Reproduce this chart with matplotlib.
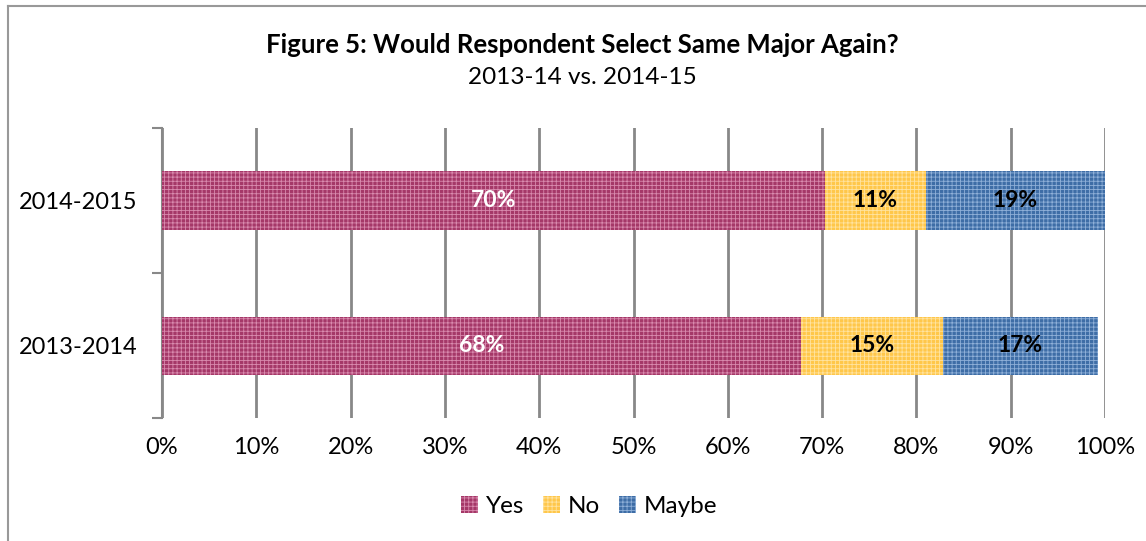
import numpy as np
import matplotlib.pyplot as plt
from matplotlib.lines import Line2D

plt.rcParams['font.family'] = ['Lato', 'DejaVu Sans']
plt.rcParams['hatch.linewidth'] = 0.6

years = ['2013-2014', '2014-2015']
yes = [67.8, 70.3]
no = [15.0, 10.7]
maybe = [16.5, 19.0]
yes_labels = ['68%', '70%']
no_labels = ['15%', '11%']
maybe_labels = ['17%', '19%']

series = [('Yes', yes, yes_labels, '#A53868', '#D98AAE', 'white'),
          ('No', no, no_labels, '#FFC74A', '#FFE3A0', 'black'),
          ('Maybe', maybe, maybe_labels, '#3E6DA6', '#8FB0D8', 'black')]

fig = plt.figure(figsize=(11.46, 5.41), dpi=100)
ax = fig.add_axes([162/1146, 1-418/541, (1105-162)/1146, (418-128)/541])

y = np.arange(len(years))
left = np.zeros(len(years))
for name, vals, labs, fc, hc, tc in series:
    bars = ax.barh(y, vals, left=left, height=0.4, color=fc, edgecolor=hc,
                   hatch='++++', linewidth=0, label=name, zorder=3)
    for b, lab in zip(bars, labs):
        ax.text(b.get_x() + b.get_width()/2, b.get_y() + b.get_height()/2, lab,
                ha='center', va='center', fontsize=16.5, fontweight='bold',
                color=tc, zorder=4)
    left += np.array(vals)

ax.set_xlim(0, 100)
ax.set_ylim(-0.5, 1.5)
ax.set_xticks(np.arange(0, 101, 10))
ax.set_xticklabels([f'{v}%' for v in range(0, 101, 10)], fontsize=17)
ax.set_yticks(y)
ax.set_yticklabels(years, fontsize=17)
ax.set_yticks([-0.5, 0.5, 1.5], minor=True)
ax.tick_params(axis='y', which='major', length=0, pad=18)
ax.tick_params(axis='y', which='minor', length=7, color='#888888', width=1.5)
ax.tick_params(axis='x', length=0, pad=14)
ax.grid(axis='x', color='#888888', linewidth=2, zorder=0)
for s in ['top', 'right', 'bottom']:
    ax.spines[s].set_visible(False)
ax.spines['left'].set_color('#888888')
ax.spines['left'].set_linewidth(1.5)

fig.text(0.508, 1-45/541, 'Figure 5: Would Respondent Select Same Major Again?',
         ha='center', va='center', fontsize=18.5, fontweight='bold')
fig.text(0.508, 1-78/541, '2013-14 vs. 2014-15', ha='center', va='center', fontsize=17.5)

ax.legend(loc='center', bbox_to_anchor=(0.453, -0.305), ncol=3, frameon=False,
          fontsize=17.5, handlelength=0.7, handleheight=0.7, handletextpad=0.3,
          columnspacing=0.8)

fig.add_artist(Line2D([8/1146, 8/1146], [0, 1-6/541], color='#999999', linewidth=1.5))
fig.add_artist(Line2D([8/1146, 1], [1-6/541, 1-6/541], color='#999999', linewidth=1.5))

fig.savefig('out.png', dpi=100)
